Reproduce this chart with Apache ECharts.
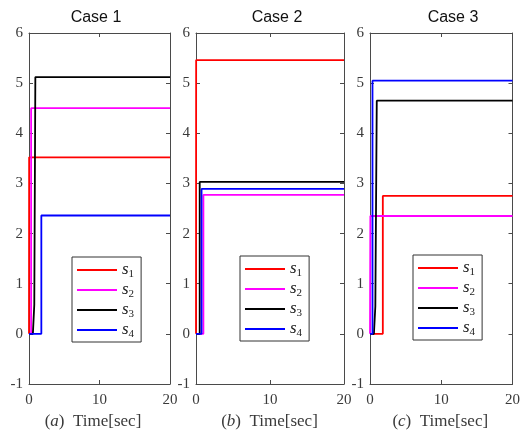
<!DOCTYPE html>
<html>
<head>
<meta charset="utf-8">
<script src="https://cdn.jsdelivr.net/npm/echarts@6/dist/echarts.min.js"></script>
<style>
  html, body { margin: 0; padding: 0; background: #fff; }
  #chart { width: 523px; height: 435px; }
</style>
</head>
<body>
<div id="chart"></div>
<script>
// Panel titles and sub-figure tags
const caseTitles = ['Case 1', 'Case 2', 'Case 3'];
const caseTags = ['a', 'b', 'c'];
const seriesNames = ['s1', 's2', 's3', 's4'];
const seriesColors = ['#ff0000', '#ff00ff', '#000000', '#0000ff'];

// Axis ranges / ticks
const timeMin = 0, timeMax = 20, timeStep = 10;
const valMin = -1, valMax = 6, valStep = 1;

// Case 1 trajectories: [time, value]
const case1_s1 = [[0, 0], [0.02, 0], [0.02, 3.52], [20, 3.52]];
const case1_s2 = [[0, 0], [0.3, 0], [0.3, 4.5], [20, 4.5]];
const case1_s3 = [[0, 0], [0.55, 0], [0.75, 0.58], [0.9, 0.6], [0.9, 5.12], [20, 5.12]];
const case1_s4 = [[0, 0], [1.75, 0], [1.75, 2.36], [20, 2.36]];

// Case 2 trajectories
const case2_s1 = [[0, 0], [0.02, 0], [0.02, 5.46], [20, 5.46]];
const case2_s2 = [[0, 0], [1.0, 0], [1.0, 2.77], [20, 2.77]];
const case2_s3 = [[0, 0], [0.5, 0], [0.5, 3.03], [20, 3.03]];
const case2_s4 = [[0, 0], [0.75, 0], [0.75, 2.89], [20, 2.89]];

// Case 3 trajectories
const case3_s1 = [[0, 0], [1.8, 0], [1.8, 2.75], [20, 2.75]];
const case3_s2 = [[0, 0], [0.05, 0], [0.05, 2.35], [20, 2.35]];
const case3_s3 = [[0, 0], [0.55, 0], [0.75, 0.55], [0.95, 0.56], [0.95, 4.65], [20, 4.65]];
const case3_s4 = [[0, 0], [0.35, 0], [0.35, 5.05], [20, 5.05]];

const caseData = [
  [case1_s1, case1_s2, case1_s3, case1_s4],
  [case2_s1, case2_s2, case2_s3, case2_s4],
  [case3_s1, case3_s2, case3_s3, case3_s4]
];

// Layout of the three panels
const grids = [
  { left: 29, right: 353, top: 33, bottom: 50 },
  { left: 196, right: 179, top: 33, bottom: 50 },
  { left: 370, right: 8, top: 33, bottom: 50 }
];
const titleCenters = [91, 272, 448];
const nameShift = [13, 1, 2];
const legendPos = [{ left: 72, top: 257 }, { left: 240, top: 256 }, { left: 413, top: 255 }];

const axisColor = '#4a4a4a';
const labelColor = '#3a3a3a';
const serif = 'Liberation Serif';

const xAxes = [], yAxes = [], series = [], titles = [], legends = [];

grids.forEach((g, i) => {
  titles.push({
    text: caseTitles[i],
    left: titleCenters[i], top: 5, textAlign: 'center',
    textStyle: { fontFamily: 'Liberation Sans', fontSize: 16, fontWeight: 'normal', color: '#111' }
  });

  // bottom x axis (labelled) and top x axis (ticks only)
  xAxes.push({
    type: 'value', gridIndex: i, min: timeMin, max: timeMax, interval: timeStep,
    position: 'bottom',
    axisLine: { onZero: false, lineStyle: { color: axisColor, width: 1 } },
    axisTick: { inside: true, length: 4, lineStyle: { color: axisColor } },
    axisLabel: { color: labelColor, fontFamily: serif, fontSize: 15, margin: 9 },
    splitLine: { show: false },
    name: '{p|(}{i|' + caseTags[i] + '}{p|)  Time[sec]}',
    nameLocation: 'middle', nameGap: 29,
    nameTextStyle: {
      padding: [0, nameShift[i], 0, 0],
      rich: {
        p: { fontFamily: serif, fontSize: 17, color: labelColor },
        i: { fontFamily: serif, fontSize: 17, fontStyle: 'italic', color: labelColor }
      }
    }
  });
  xAxes.push({
    type: 'value', gridIndex: i, min: timeMin, max: timeMax, interval: timeStep,
    position: 'top',
    axisLine: { onZero: false, lineStyle: { color: axisColor, width: 1 } },
    axisTick: { inside: true, length: 4, lineStyle: { color: axisColor } },
    axisLabel: { show: false },
    splitLine: { show: false }
  });

  // left y axis (labelled) and right y axis (ticks only)
  yAxes.push({
    type: 'value', gridIndex: i, min: valMin, max: valMax, interval: valStep,
    position: 'left',
    axisLine: { show: true, onZero: false, lineStyle: { color: axisColor, width: 1 } },
    axisTick: { show: true, inside: true, length: 4, lineStyle: { color: axisColor } },
    axisLabel: { color: labelColor, fontFamily: serif, fontSize: 15, margin: 6 },
    splitLine: { show: false }
  });
  yAxes.push({
    type: 'value', gridIndex: i, min: valMin, max: valMax, interval: valStep,
    position: 'right',
    axisLine: { show: true, onZero: false, lineStyle: { color: axisColor, width: 1 } },
    axisTick: { show: true, inside: true, length: 4, lineStyle: { color: axisColor } },
    axisLabel: { show: false },
    splitLine: { show: false }
  });

  caseData[i].forEach((d, k) => {
    series.push({
      type: 'line', name: seriesNames[k],
      xAxisIndex: i * 2, yAxisIndex: i * 2,
      data: d, symbol: 'none', clip: true, animation: false,
      lineStyle: { color: seriesColors[k], width: 1.8 },
      itemStyle: { color: seriesColors[k] }
    });
  });

  legends.push({
    show: true, orient: 'vertical',
    left: legendPos[i].left, top: legendPos[i].top,
    data: seriesNames.slice(),
    selectedMode: false,
    icon: 'rect', itemWidth: 40, itemHeight: 2, itemGap: 0,
    padding: [3, 7, 2, 5],
    backgroundColor: '#fff', borderColor: '#333', borderWidth: 1,
    formatter: name => '{s|s}{sub|' + name.slice(1) + '}',
    textStyle: {
      rich: {
        s: { fontFamily: serif, fontStyle: 'italic', fontSize: 17, color: '#222', lineHeight: 14 },
        sub: { fontFamily: serif, fontSize: 11, color: '#222', padding: [9, 0, 0, 0], lineHeight: 14 }
      }
    }
  });
});

const chart = echarts.init(document.getElementById('chart'), null, { renderer: 'canvas' });
chart.setOption({
  backgroundColor: '#fff',
  animation: false,
  title: titles,
  grid: grids,
  xAxis: xAxes,
  yAxis: yAxes,
  legend: legends,
  series: series
});
</script>
</body>
</html>
